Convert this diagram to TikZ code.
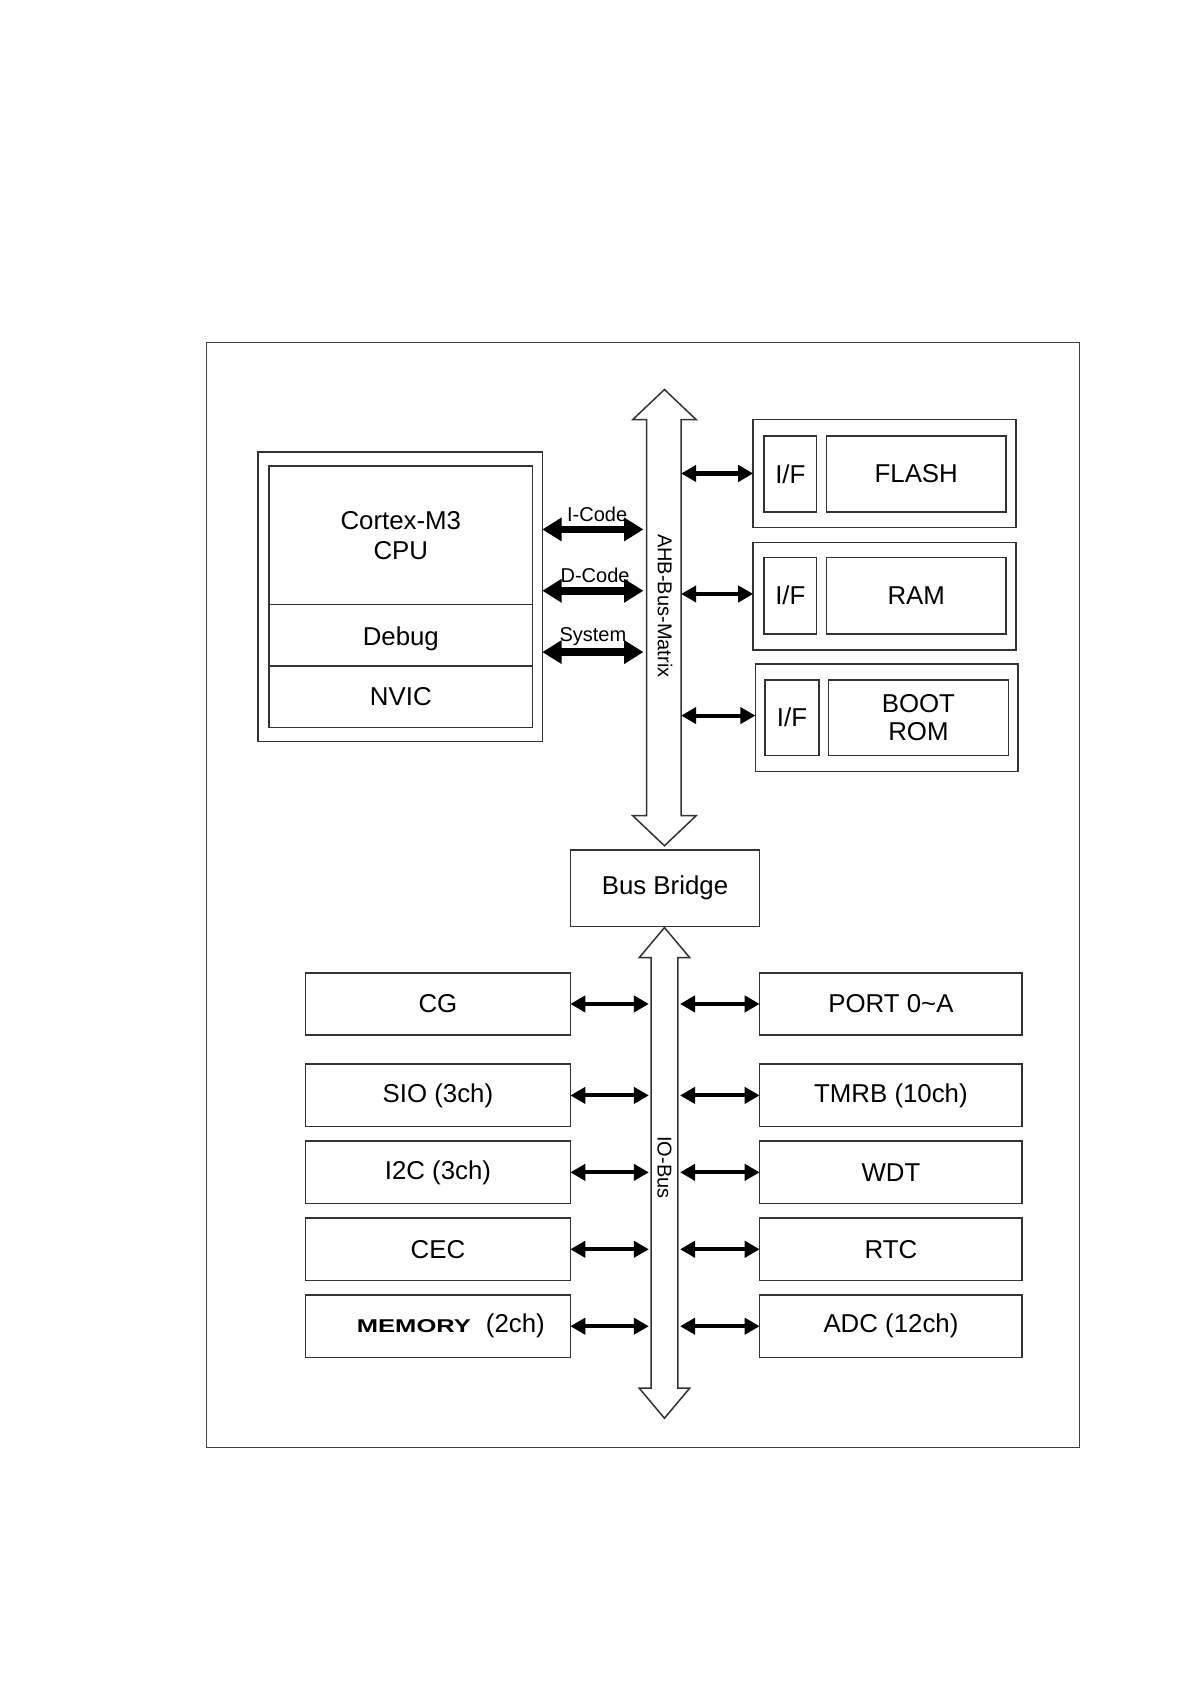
\documentclass[tikz,border=0pt]{standalone}
\usepackage{fontspec}
\usepackage{graphicx}
\setmainfont{Liberation Sans}
\usetikzlibrary{arrows.meta}
\begin{document}
\begin{tikzpicture}[x=0.5pt,y=-0.5pt,
 box/.style={draw=black!80, line width=0.7pt, inner sep=0pt, outer sep=0pt, align=center, font=\fontsize{12}{14}\selectfont},
 bigbus/.style={line width=3.6pt, {Triangle[length=9pt,width=10.5pt]}-{Triangle[length=9pt,width=10.5pt]}},
 link/.style={line width=1.9pt, {Triangle[length=7pt,width=7.5pt]}-{Triangle[length=7pt,width=7.5pt]}},
 hollow/.style={draw=black!80, line width=0.7pt, fill=white, line join=miter},
 buslabel/.style={font=\fontsize{9.3}{10}\selectfont, inner sep=0pt},
 frame/.style={draw=black!75, line width=0.6pt}]
\fill[white] (0,0) rectangle (1110,1565);
\useasboundingbox (0,0) rectangle (1110,1565);
\draw[frame] (192,318) rectangle (1003,1345);

% CPU block
\node[box, minimum width=132pt, minimum height=134.5pt] (cortex) at (372,554.5) {};
\node[box, minimum width=122.5pt, minimum height=64.5pt] (cpu) at (372.5,497.5) {Cortex-M3\\CPU};
\node[box, minimum width=122.5pt, minimum height=28.5pt, text depth=1pt] (debug) at (372.5,590.5) {\raisebox{-1.5pt}{Debug}};
\node[box, minimum width=122.5pt, minimum height=28.5pt] (nvic) at (372.5,647.5) {\raisebox{-1pt}{NVIC}};

% AHB bus matrix (hollow double arrow)
\draw[hollow] (617.5,362) -- (647,390) -- (633,390) -- (633,758) -- (647,758) -- (617.5,786)
  -- (588,758) -- (601,758) -- (601,390) -- (588,390) -- cycle;
\node[buslabel, rotate=-90] (ahblabel) at (618,563) {AHB-Bus-Matrix};

% memories
\node[box, minimum width=122pt, minimum height=50pt] (flash) at (822,440) {};
\node[box, minimum width=24.5pt, minimum height=35.5pt] (flashif) at (734.5,440.5) {I/F};
\node[box, minimum width=83.5pt, minimum height=35.5pt] (flashm) at (851.5,440.5) {FLASH};
\node[box, minimum width=122pt, minimum height=50pt] (ram) at (822,554) {};
\node[box, minimum width=24.5pt, minimum height=35.5pt] (ramif) at (734.5,553.5) {I/F};
\node[box, minimum width=83.5pt, minimum height=35.5pt] (ramm) at (851.5,553.5) {RAM};
\node[box, minimum width=122pt, minimum height=50pt] (boot) at (824,667) {};
\node[box, minimum width=25pt, minimum height=35pt] (bootif) at (736,667) {I/F};
\node[box, minimum width=83.5pt, minimum height=35pt, font=\fontsize{12}{13}\selectfont] (bootm) at (853.5,667) {BOOT\\ROM};

% bus coordinates (AHB)
\coordinate (ahbI) at (598,492);
\coordinate (ahbD) at (598,549);
\coordinate (ahbS) at (598,606);
\coordinate (ahbF) at (633,440);
\coordinate (ahbR) at (633,552);
\coordinate (ahbB) at (633,665);

\draw[bigbus] (cortex.east |- ahbI) -- (ahbI);
\draw[bigbus] (cortex.east |- ahbD) -- (ahbD);
\draw[bigbus] (cortex.east |- ahbS) -- (ahbS);
\node[buslabel] (icode) at (555,478) {I-Code};
\node[buslabel] (dcode) at (553,535) {D-Code};
\node[buslabel] (sys) at (551,592) {System};

\draw[link] (ahbF) -- (flash.west |- ahbF);
\draw[link] (ahbR) -- (ram.west |- ahbR);
\draw[link] (ahbB) -- (boot.west |- ahbB);

% bus bridge
\node[box, minimum width=88pt, minimum height=35.5pt] (bridge) at (618,825.5) {\raisebox{-1pt}{Bus Bridge}};

% IO bus
\draw[hollow] (617.5,862) -- (641,890) -- (630,890) -- (630,1290) -- (641,1290) -- (617.5,1318)
  -- (594,1290) -- (605,1290) -- (605,890) -- (594,890) -- cycle;
\node[buslabel, rotate=-90] (iolabel) at (617.5,1085) {IO-Bus};

% peripherals left
\node[box, minimum width=123pt, minimum height=29pt] (cg) at (407,933) {CG};
\node[box, minimum width=123pt, minimum height=29pt] (sio) at (407,1018) {SIO (3ch)};
\node[box, minimum width=123pt, minimum height=29pt] (iic) at (407,1089.5) {I2C (3ch)};
\node[box, minimum width=123pt, minimum height=29pt] (cec) at (407,1161) {CEC};
\node[box, minimum width=123pt, minimum height=29pt, align=left] (mem) at (407,1232.5)
  {\kern12pt\scalebox{1.38}[1]{\bfseries\fontsize{8.6}{10}\selectfont MEMORY}\kern7pt(2ch)};
% peripherals right
\node[box, minimum width=122pt, minimum height=29pt] (port) at (828,933) {PORT 0\textasciitilde A};
\node[box, minimum width=122pt, minimum height=29pt] (tmrb) at (828,1018) {TMRB (10ch)};
\node[box, minimum width=122pt, minimum height=29pt] (wdt) at (828,1089.5) {WDT};
\node[box, minimum width=122pt, minimum height=29pt] (rtc) at (828,1161) {RTC};
\node[box, minimum width=122pt, minimum height=29pt] (adc) at (828,1232.5) {ADC (12ch)};

% IO bus coordinates
\coordinate (ioL1) at (603,933);
\coordinate (ioL2) at (603,1018);
\coordinate (ioL3) at (603,1089.5);
\coordinate (ioL4) at (603,1161);
\coordinate (ioL5) at (603,1232.5);
\coordinate (ioR1) at (632,933);
\coordinate (ioR2) at (632,1018);
\coordinate (ioR3) at (632,1089.5);
\coordinate (ioR4) at (632,1161);
\coordinate (ioR5) at (632,1232.5);

\draw[link] (cg.east) -- (ioL1);
\draw[link] (sio.east) -- (ioL2);
\draw[link] (iic.east) -- (ioL3);
\draw[link] (cec.east) -- (ioL4);
\draw[link] (mem.east) -- (ioL5);
\draw[link] (ioR1) -- (port.west);
\draw[link] (ioR2) -- (tmrb.west);
\draw[link] (ioR3) -- (wdt.west);
\draw[link] (ioR4) -- (rtc.west);
\draw[link] (ioR5) -- (adc.west);
\end{tikzpicture}
\end{document}
